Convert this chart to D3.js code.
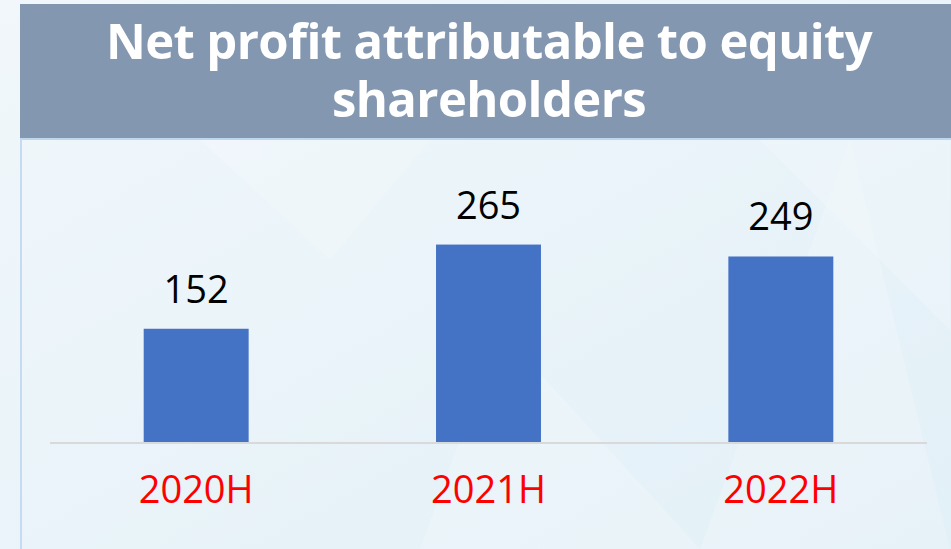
<!DOCTYPE html>
<html>
<head>
<meta charset="utf-8">
<script src="https://cdn.jsdelivr.net/npm/d3@7"></script>
<style>
  html, body { margin: 0; padding: 0; background: #eef6fa; }
  svg { display: block; }
</style>
</head>
<body>
<div id="chart"></div>
<script>
// data
var categories = ["2020H", "2021H", "2022H"];
var values = [152, 265, 249];
var titleLines = ["Net profit attributable to equity", "shareholders"];

var width = 951,
    height = 549;

var svg = d3.select("#chart").append("svg")
    .attr("width", width)
    .attr("height", height);

// background
var defs = svg.append("defs");
var grad = defs.append("linearGradient")
    .attr("id", "bg")
    .attr("x1", "0").attr("y1", "0")
    .attr("x2", "1").attr("y2", "1");
grad.append("stop").attr("offset", "0%").attr("stop-color", "#f1f7fb");
grad.append("stop").attr("offset", "100%").attr("stop-color", "#e2f0f7");

svg.append("rect")
    .attr("width", width)
    .attr("height", height)
    .attr("fill", "url(#bg)");

// faint polygon shading
var shades = [
  [[200, 140], [430, 140], [330, 260]],
  [[760, 140], [950, 140], [950, 330]],
  [[850, 140], [700, 549], [950, 549]],
  [[500, 330], [700, 549], [420, 549]]
];
svg.append("g").selectAll("path")
    .data(shades)
    .enter().append("path")
    .attr("d", function(d) { return "M" + d.join("L") + "Z"; })
    .attr("fill", "#ffffff")
    .attr("opacity", 0.18);

// title band
svg.append("rect")
    .attr("x", 20).attr("y", 4)
    .attr("width", width - 20).attr("height", 134)
    .attr("fill", "#8497b0");
svg.append("rect")
    .attr("x", 20).attr("y", 138)
    .attr("width", width - 20).attr("height", 2)
    .attr("fill", "#bdd7ee");
svg.append("rect")
    .attr("x", 20).attr("y", 139)
    .attr("width", 2).attr("height", height - 139)
    .attr("fill", "#c5dcf0");

// title as one text block, two lines
svg.append("text")
    .attr("text-anchor", "middle")
    .attr("font-family", "'Open Sans', sans-serif")
    .attr("font-weight", "bold")
    .attr("font-size", 49)
    .attr("letter-spacing", -0.6)
    .attr("fill", "#ffffff")
  .selectAll("tspan")
    .data(titleLines)
    .enter().append("tspan")
    .attr("x", 489)
    .attr("y", function(d, i) { return 59 + i * 58; })
    .text(function(d) { return d; });

// scales
var x = d3.scaleBand()
    .domain(categories)
    .range([50, 927])
    .paddingInner(0.641)
    .paddingOuter(0.3205);

var y = d3.scaleLinear()
    .domain([0, 300])
    .range([442, 218.5]);

// axis baseline
svg.append("line")
    .attr("x1", 50).attr("x2", 927)
    .attr("y1", y(0) + 1).attr("y2", y(0) + 1)
    .attr("stroke", "#d9d9d9")
    .attr("stroke-width", 2);

// bars
svg.append("g").selectAll("rect")
    .data(values)
    .enter().append("rect")
    .attr("x", function(d, i) { return x(categories[i]); })
    .attr("y", function(d) { return y(d); })
    .attr("width", x.bandwidth())
    .attr("height", function(d) { return y(0) - y(d); })
    .attr("fill", "#4472c4");

// value labels
svg.append("g").selectAll("text")
    .data(values)
    .enter().append("text")
    .attr("x", function(d, i) { return x(categories[i]) + x.bandwidth() / 2; })
    .attr("y", function(d) { return y(d) - 26; })
    .attr("text-anchor", "middle")
    .attr("font-family", "'Open Sans', sans-serif")
    .attr("font-size", 38)
    .attr("fill", "#000000")
    .text(function(d) { return d; });

// category labels
svg.append("g").selectAll("text")
    .data(categories)
    .enter().append("text")
    .attr("x", function(d) { return x(d) + x.bandwidth() / 2; })
    .attr("y", 503)
    .attr("text-anchor", "middle")
    .attr("font-family", "'Open Sans', sans-serif")
    .attr("font-size", 38)
    .attr("fill", "#ff0000")
    .text(function(d) { return d; });
</script>
</body>
</html>
